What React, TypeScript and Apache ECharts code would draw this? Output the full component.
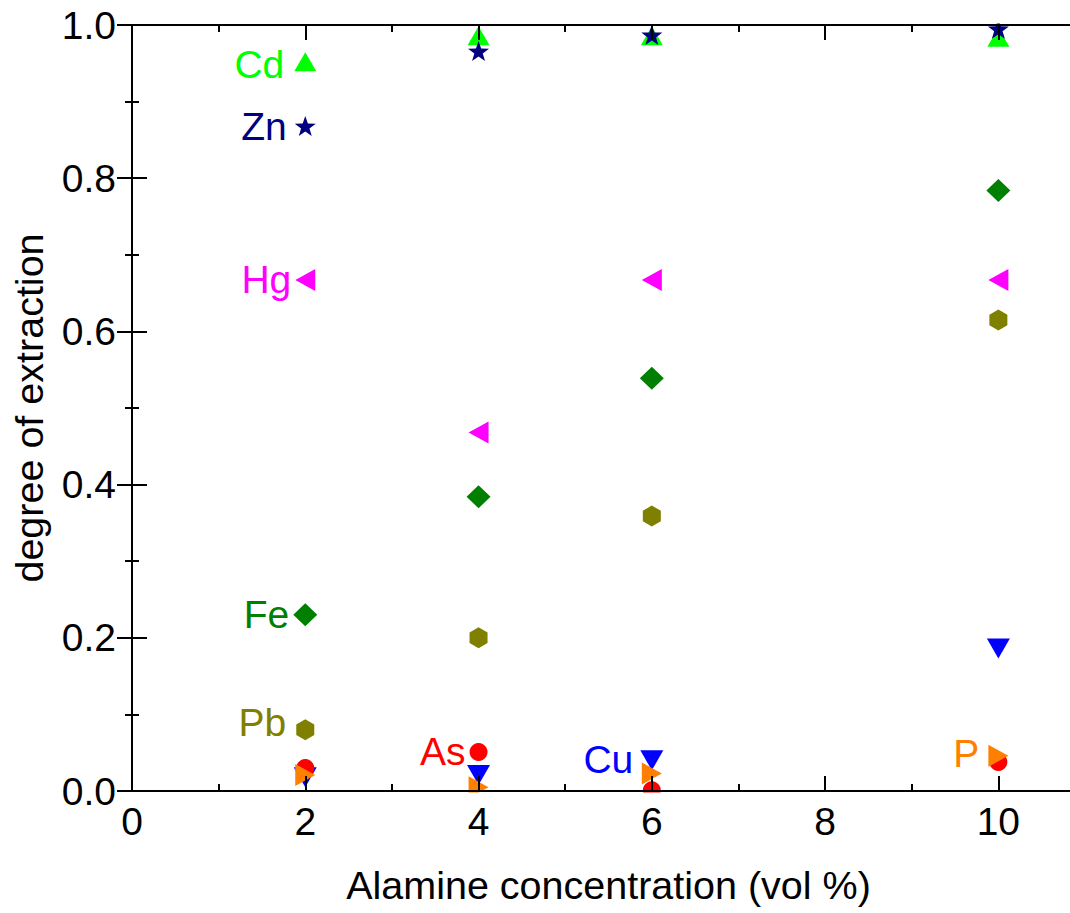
import React, { useEffect, useRef } from "react";
import * as echarts from "echarts";

const concentrations = [2, 4, 6, 10];
const cdValues = [0.952, 0.986, 0.986, 0.984];
const znValues = [0.868, 0.966, 0.987, 0.995];
const hgValues = [0.667, 0.468, 0.667, 0.667];
const feValues = [0.23, 0.384, 0.539, 0.784];
const pbValues = [0.08, 0.2, 0.359, 0.615];
const cuValues = [0.018, 0.021, 0.04, 0.186];
const asValues = [0.03, 0.051, 0.001, 0.038];
const pValues = [0.021, 0.005, 0.023, 0.046];

const FONT = "'Liberation Sans', Arial, sans-serif";

type SeriesDef = {
  name: string;
  values: number[];
  color: string;
  symbol: string;
  size: number | number[];
  labelIndex: number;
  labelDistance: number;
  labelOffset: number[];
};

const seriesDefs: SeriesDef[] = [
  { name: "Cd", values: cdValues, color: "#00FF00", symbol: "triangle", size: [22, 19], labelIndex: 0, labelDistance: 10, labelOffset: [0, 3] },
  { name: "Zn", values: znValues, color: "#000080", symbol: "path://M0,-10 L2.35,-3.24 L9.51,-3.09 L3.8,1.24 L5.88,8.09 L0,4 L-5.88,8.09 L-3.8,1.24 L-9.51,-3.09 L-2.35,-3.24Z", size: [21, 20], labelIndex: 0, labelDistance: 8, labelOffset: [0, 0] },
  { name: "Hg", values: hgValues, color: "#FF00FF", symbol: "path://M0,5 L10,0 L10,10Z", size: [20, 22], labelIndex: 0, labelDistance: 4, labelOffset: [0, -1] },
  { name: "Fe", values: feValues, color: "#008000", symbol: "diamond", size: [24, 23], labelIndex: 0, labelDistance: 4, labelOffset: [0, 0] },
  { name: "Pb", values: pbValues, color: "#808000", symbol: "path://M0,-10 L8.66,-5 L8.66,5 L0,10 L-8.66,5 L-8.66,-5Z", size: [18, 21], labelIndex: 0, labelDistance: 10, labelOffset: [0, -7] },
  { name: "Cu", values: cuValues, color: "#0000FF", symbol: "path://M0,0 L10,0 L5,10Z", size: [23, 20], labelIndex: 2, labelDistance: 7, labelOffset: [0, -1] },
  { name: "As", values: asValues, color: "#FF0000", symbol: "circle", size: 18, labelIndex: 1, labelDistance: 4, labelOffset: [0, 0] },
  { name: "P", values: pValues, color: "#FF8000", symbol: "path://M0,0 L10,5 L0,10Z", size: [20, 22], labelIndex: 3, labelDistance: 9, labelOffset: [0, -2] },
];

export default function App() {
  const ref = useRef<HTMLDivElement>(null);

  useEffect(() => {
    if (!ref.current) return;
    const chart = echarts.init(ref.current, undefined, { renderer: "svg" });

    const gridLeft = 132;
    const gridTop = 25;
    const gridWidth = 953;
    const gridHeight = 766;

    const axisLine = { show: true, lineStyle: { color: "#000", width: 2 } };
    const majorTick = { show: true, inside: true, length: 15, lineStyle: { color: "#000", width: 2 } };
    const minorOnlyTick = { show: true, inside: true, length: 7, lineStyle: { color: "#000", width: 2 } };

    const xBase = { type: "value", min: 0, max: 11, splitLine: { show: false } };

    chart.setOption({
      animation: false,
      backgroundColor: "#fff",
      grid: { left: gridLeft, top: gridTop, width: gridWidth, height: gridHeight, containLabel: false },
      xAxis: [
        {
          ...xBase,
          position: "bottom",
          interval: 2,
          axisLine,
          axisTick: majorTick,
          axisLabel: { fontSize: 39, color: "#000", fontFamily: FONT, margin: 11, showMaxLabel: false },
          name: "Alamine concentration (vol %)",
          nameLocation: "middle",
          nameGap: 74,
          nameTextStyle: { fontSize: 39.5, color: "#000", fontFamily: FONT },
          z: 10,
        },
        {
          ...xBase,
          position: "bottom",
          interval: 1,
          axisLine: { show: false },
          axisTick: minorOnlyTick,
          axisLabel: { show: false },
        },
        {
          ...xBase,
          position: "top",
          interval: 2,
          axisLine,
          axisTick: majorTick,
          axisLabel: { show: false },
          z: 10,
        },
        {
          ...xBase,
          position: "top",
          interval: 1,
          axisLine: { show: false },
          axisTick: minorOnlyTick,
          axisLabel: { show: false },
        },
      ],
      yAxis: [
        {
          type: "value",
          position: "left",
          min: 0,
          max: 1,
          interval: 0.2,
          splitLine: { show: false },
          axisLine,
          axisTick: majorTick,
          minorTick: { show: true, splitNumber: 2, length: 7, lineStyle: { color: "#000", width: 2 } },
          axisLabel: {
            fontSize: 39,
            color: "#000",
            fontFamily: FONT,
            margin: 16,
            formatter: (v: number) => v.toFixed(1),
          },
          name: "degree of extraction",
          nameLocation: "middle",
          nameGap: 83,
          nameTextStyle: { fontSize: 39.5, color: "#000", fontFamily: FONT },
        },
        {
          type: "value",
          position: "right",
          min: 0,
          max: 1,
          interval: 0.2,
          splitLine: { show: false },
          axisLine,
          axisTick: majorTick,
          minorTick: { show: true, splitNumber: 2, length: 7, lineStyle: { color: "#000", width: 2 } },
          axisLabel: { show: false },
        },
      ],
      // white masks emulating the plot-area clipping of markers that cross the frame
      graphic: [
        {
          type: "rect",
          z: 5,
          silent: true,
          shape: { x: gridLeft + 2, y: gridTop + gridHeight + 1.5, width: gridWidth, height: 14 },
          style: { fill: "#fff" },
        },
        {
          type: "rect",
          z: 5,
          silent: true,
          shape: { x: gridLeft + 2, y: gridTop - 15.5, width: gridWidth, height: 14 },
          style: { fill: "#fff" },
        },
      ],
      series: seriesDefs.map((s) => ({
        type: "scatter",
        name: s.name,
        xAxisIndex: 0,
        yAxisIndex: 0,
        symbol: s.symbol,
        symbolSize: s.size,
        itemStyle: { color: s.color, opacity: 1 },
        emphasis: { disabled: true },
        data: concentrations.map((x, i) => {
          const item: any = { value: [x, s.values[i]] };
          if (i === s.labelIndex) {
            item.label = {
              show: true,
              position: "left",
              distance: s.labelDistance,
              offset: s.labelOffset,
              formatter: s.name,
              color: s.color,
              fontSize: 39,
              fontFamily: FONT,
            };
          }
          return item;
        }),
      })),
    });

    return () => chart.dispose();
  }, []);

  return (
    <div
      style={{
        position: "fixed",
        left: 0,
        top: 0,
        width: 1070,
        height: 913,
        overflow: "hidden",
        background: "#fff",
      }}
    >
      <div ref={ref} style={{ width: 1110, height: 913 }} />
    </div>
  );
}
